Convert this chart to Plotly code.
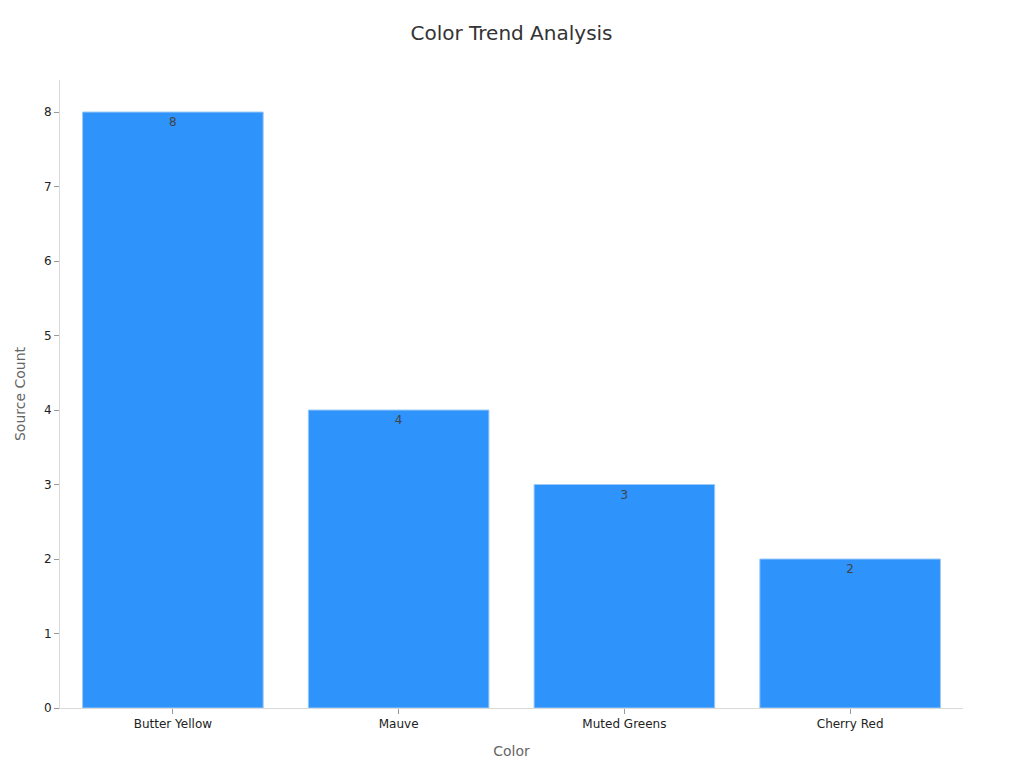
import plotly.graph_objects as go

# data
colors = ["Butter Yellow", "Mauve", "Muted Greens", "Cherry Red"]
source_count = [8, 4, 3, 2]

fig = go.Figure()
fig.add_trace(go.Bar(x=colors, y=source_count,
                     text=source_count,
                     textposition='inside',
                     insidetextanchor='end',
                     textfont=dict(color='#444444', size=12),
                     marker=dict(color='#2E93FA', line=dict(color='#9cc9f7', width=1))))

fig.update_layout(
    width=1024, height=768,
    title=dict(text="Color Trend Analysis", xref='paper', x=0.5, xanchor='center',
               yref='container', y=0.967, yanchor='middle',
               font=dict(size=20, color='#333333')),
    font=dict(family="DejaVu Sans", size=12, color='#222222'),
    plot_bgcolor='white', paper_bgcolor='white',
    margin=dict(l=52, r=69, t=72, b=68),
    bargap=0.2,
    showlegend=False,
)
fig.update_xaxes(title=dict(text="Color", font=dict(size=14, color='#666666'), standoff=15),
                 showline=True, linecolor='#d9d9d9', ticks='outside',
                 tickcolor='#999999', ticklen=5, showgrid=False)
fig.update_yaxes(title=dict(text="Source Count", font=dict(size=14, color='#666666')),
                 range=[0, 8.43], dtick=1,
                 showline=True, linecolor='#d9d9d9', ticks='outside',
                 tickcolor='#999999', ticklen=5, showgrid=False, zeroline=False)

fig.write_html("out.html")
